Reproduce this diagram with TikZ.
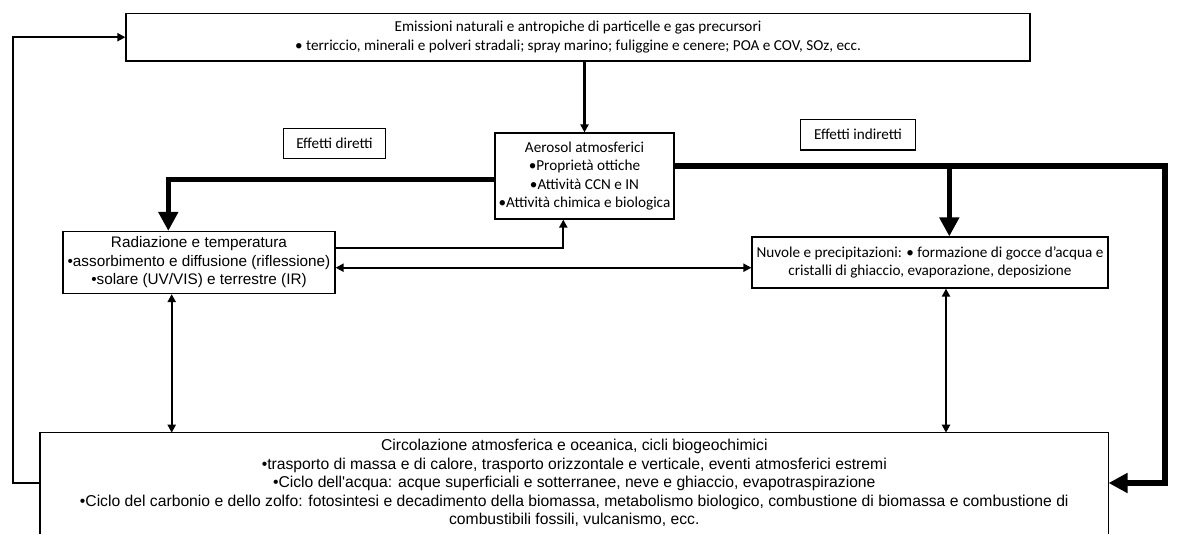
\documentclass[tikz,border=0pt]{standalone}
\usepackage{fontspec}
\setmainfont{Carlito}
\newfontfamily\arialf{Liberation Sans}
\usetikzlibrary{arrows.meta,calc}
\begin{document}
\begin{tikzpicture}[x=1pt,y=-1pt,
  box/.style={draw,line width=1.2pt,inner sep=0pt,align=center,font=\fontsize{15.2}{18.6}\selectfont},
  abox/.style={box,font=\arialf\fontsize{15.3}{18.5}\selectfont},
  thinarr/.style={line width=2.2pt,-{Triangle[length=8pt,width=8pt]}},
  thinboth/.style={line width=2.2pt,{Triangle[length=8pt,width=8pt]}-{Triangle[length=8pt,width=8pt]}},
  thickarr/.style={line width=5.6pt,line join=miter,-{Triangle[length=19pt,width=19pt]}}]
\useasboundingbox (0,0) rectangle (1178,533);
\clip (0,0) rectangle (1178,533);

\node[box,minimum width=904pt,minimum height=47.7pt] (top) at (578,37.2)
  {Emissioni naturali e antropiche di particelle e gas precursori\\
   \textbullet\ terriccio, minerali e polveri stradali; spray marino; fuliggine e cenere; POA e COV, SOz, ecc.};
\node[box,minimum width=179pt,minimum height=86pt] (aero) at (584.5,176)
  {Aerosol atmosferici\\ •Proprietà ottiche\\ •Attività CCN e IN\\ •Attività chimica e biologica};
\node[box,minimum width=102.4pt,minimum height=30pt] (ed) at (334.5,143.3) {Effetti diretti};
\node[box,minimum width=114.6pt,minimum height=30.7pt] (ei) at (858,134.7) {Effetti indiretti};
\node[abox,minimum width=272pt,minimum height=62pt] (rad) at (199,262.5)
  {Radiazione e temperatura\\ •assorbimento e diffusione (riflessione)\\ •solare (UV/VIS) e terrestre (IR)};
\node[box,minimum width=356pt,minimum height=51pt] (nuv) at (930,262.5)
  {Nuvole e precipitazioni: \textbullet\ formazione di gocce d'acqua e\\ cristalli di ghiaccio, evaporazione, deposizione};
\node[abox,draw=none,font=\arialf\fontsize{15.7}{18.4}\selectfont,minimum width=1067.3pt,minimum height=99.4pt] (bot) at (574.3,483)
  {Circolazione atmosferica e oceanica, cicli biogeochimici\\
   •trasporto di massa e di calore, trasporto orizzontale e verticale, eventi atmosferici estremi\\
   •Ciclo dell'acqua: acque superficiali e sotterranee, neve e ghiaccio, evapotraspirazione\\
   •Ciclo del carbonio e dello zolfo: fotosintesi e decadimento della biomassa, metabolismo biologico, combustione di biomassa e combustione di\\
   combustibili fossili, vulcanismo, ecc.};
\draw[line width=1.2pt] (bot.north west) rectangle ($(bot.south east)+(0,20)$);

% connectors
\draw[thinarr] (aero.north |- top.south) -- (aero.north);
\draw[thinarr] (bot.west) -- ++(-27.4,0) |- (top.west);

\coordinate (dl) at ($(aero.west)+(0,3.3)$);
\coordinate (dt) at ($(rad.north)+(-30.7,0)$);
\draw[thickarr] (dl) -| (dt);

\coordinate (rr) at ($(rad.east)+(0,-14.2)$);
\coordinate (ab) at ($(aero.south)+(-21.2,0)$);
\draw[thinarr] (rr) -| (ab);

\coordinate (rm) at ($(rad.east)+(0,5.2)$);
\draw[thinboth] (rm) -- (rm -| nuv.west);

\coordinate (ir) at ($(aero.east)+(0,-10)$);
\coordinate (ic) at (1165,166);
\draw[thickarr] (ir) -- (ic) |- (bot.east);
\coordinate (nt) at ($(nuv.north)+(19.3,0)$);
\draw[thickarr] (nt |- ir) -- (nt);

\coordinate (a1) at ($(rad.south)+(-27.3,0)$);
\draw[thinboth] (a1) -- (a1 |- bot.north);
\coordinate (a2) at ($(nuv.south)+(16,0)$);
\draw[thinboth] (a2) -- (a2 |- bot.north);
\end{tikzpicture}
\end{document}
